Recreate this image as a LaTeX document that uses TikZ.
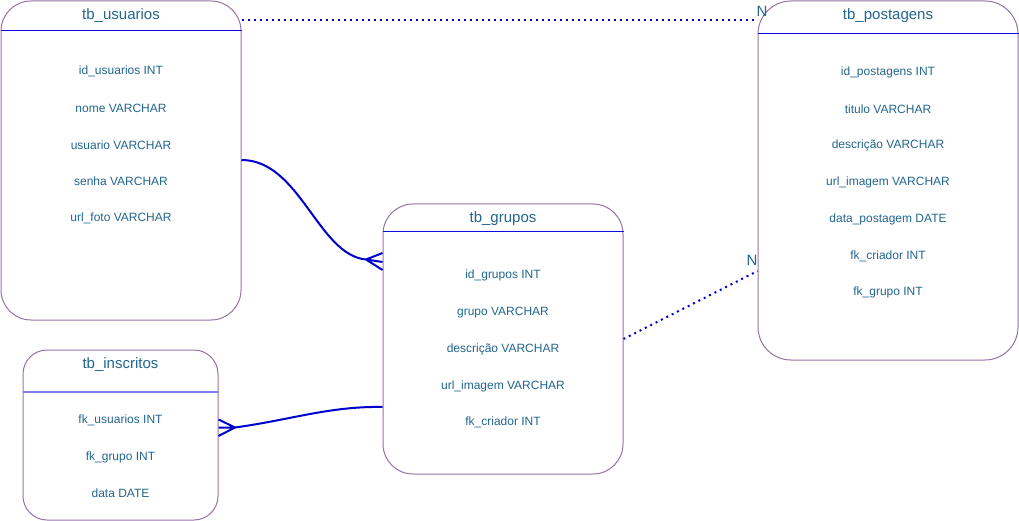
\documentclass[tikz,border=0pt]{standalone}
\usepackage{fontspec}
\setmainfont{Liberation Sans}
\usetikzlibrary{positioning}
\definecolor{borda}{HTML}{9673A6}
\definecolor{azul}{HTML}{0000CC}
\definecolor{linha}{HTML}{0A0AE6}
\definecolor{lilas}{HTML}{7F7FE6}
\definecolor{texto}{HTML}{23668E}

\begin{document}
\begin{tikzpicture}[x=1pt, y=-1pt,
    tabela/.style={rectangle, draw=borda, line width=1pt, fill=white,
      rounded corners=30pt, inner sep=0pt},
    titulo/.style={text=texto, font=\fontsize{15}{18}\selectfont},
    campo/.style={text=texto, font=\fontsize{12}{14}\selectfont},
    cabecalho/.style={draw=linha, line width=1.2pt},
    ligacao/.style={draw=azul, line width=2pt},
    pontilhado/.style={draw=azul, line width=2pt, dash pattern=on 2pt off 4pt},
    cardinal/.style={text=texto, font=\fontsize{15}{18}\selectfont}]

    \useasboundingbox (0,0) rectangle (1019,521);

    % Place tables
    \node [tabela, minimum width=240pt, minimum height=319pt] (usuarios) at (121,160.5) {};
    \node [tabela, minimum width=260pt, minimum height=359pt, rounded corners=33pt] (postagens) at (888,180.5) {};
    \node [tabela, minimum width=240pt, minimum height=270pt] (grupos) at (503,339) {};
    \node [tabela, minimum width=195pt, minimum height=170pt, rounded corners=24pt] (inscritos) at (120.5,435) {};

    % titles and header lines
    \node [titulo] (t_usuarios) at (121,15.5) {tb\_usuarios};
    \node [titulo] (t_postagens) at (888,16) {tb\_postagens};
    \node [titulo] (t_grupos) at (503,218.5) {tb\_grupos};
    \node [titulo] (t_inscritos) at (120.5,364.5) {tb\_inscritos};
    \path [cabecalho] (usuarios.west |- 0,30.5) -- (usuarios.east |- 0,30.5);
    \path [cabecalho] (postagens.west |- 0,33.5) -- (postagens.east |- 0,33.5);
    \path [cabecalho] (grupos.west |- 0,231.5) -- (grupos.east |- 0,231.5);
    \path [cabecalho, draw=lilas, line width=2pt] (inscritos.west |- 0,392) -- (inscritos.east |- 0,392);

    % fields
    \foreach \campo [count=\i] in {id\_usuarios INT, nome VARCHAR, usuario VARCHAR,
        senha VARCHAR, url\_foto VARCHAR}
      \node [campo] (usuarios-\i) at (121,{71.5+36.7*(\i-1)}) {\campo};
    \foreach \campo [count=\i] in {id\_postagens INT, titulo VARCHAR, descrição VARCHAR,
        url\_imagem VARCHAR, data\_postagem DATE, fk\_criador INT, fk\_grupo INT}
      \node [campo] (postagens-\i) at (888,{72.5+36.7*(\i-1)}) {\campo};
    \foreach \campo [count=\i] in {id\_grupos INT, grupo VARCHAR, descrição VARCHAR,
        url\_imagem VARCHAR, fk\_criador INT}
      \node [campo] (grupos-\i) at (503,{275.5+36.8*(\i-1)}) {\campo};
    \foreach \campo [count=\i] in {fk\_usuarios INT, fk\_grupo INT, data DATE}
      \node [campo] (inscritos-\i) at (120.5,{420.5+36.6*(\i-1)}) {\campo};

    % cardinality labels
    \node [cardinal] (n_postagens) at (762,11) {N};
    \node [cardinal] (n_grupos) at (752,260) {N};

    % Drawing paths
    \coordinate (pe_grupos) at (366,259.5);
    \coordinate (pe_inscritos) at (235,427.5);

    \path [ligacao] (usuarios.east |- 0,160) .. controls (300,160) and (318,255) .. (pe_grupos);
    \path [ligacao] (pe_grupos) -- (grupos.west |- 0,253)
                    (pe_grupos) -- (grupos.west |- 0,262)
                    (pe_grupos) -- (grupos.west |- 0,270);

    \path [ligacao] (grupos.west |- 0,407) .. controls (330,406) and (290,420) .. (pe_inscritos);
    \path [ligacao] (pe_inscritos) -- (inscritos.east |- 0,419.5)
                    (pe_inscritos) -- (inscritos.east |- 0,427.5)
                    (pe_inscritos) -- (inscritos.east |- 0,436);

    \path [pontilhado] (usuarios.east |- 0,20.5) -- (postagens.west |- 0,20.5);
    \path [pontilhado] (grupos.east) -- (postagens.west |- 0,271);

\end{tikzpicture}
\end{document}
